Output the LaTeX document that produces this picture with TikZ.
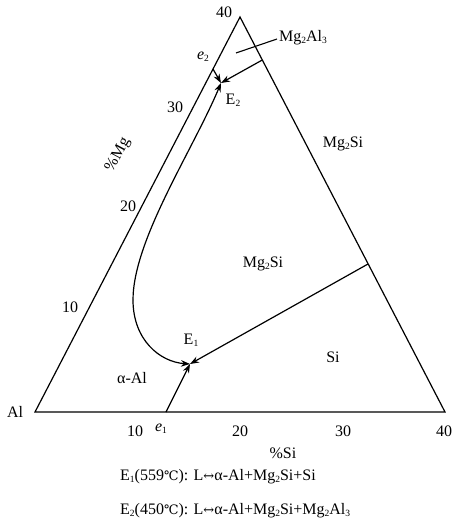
\documentclass[tikz,border=0pt]{standalone}
\usepackage{fontspec}
\setmainfont{Liberation Serif}
\newfontfamily\symfont{DejaVu Serif}
\usetikzlibrary{arrows.meta}
\newcommand\lsb[1]{\raisebox{-0.12em}{\fontsize{9.5}{10}\selectfont #1}}
\newcommand\degc{{\symfont\fontsize{13}{14}\selectfont ℃}}
\newcommand\lrarr{{\symfont\fontsize{13}{14}\selectfont ↔}}
\begin{document}
\begin{tikzpicture}[x=1pt,y=-1pt,
  lbl/.style={inner sep=0pt,font=\fontsize{16}{18}\selectfont},
  edge/.style={line width=1.2pt},
  flow/.style={line width=1.2pt,-{Stealth[length=9pt,width=6.5pt]}}]
\useasboundingbox (0,0) rectangle (455,518);
% vertices
\coordinate (A) at (35,412);
\coordinate (T) at (240,17);
\coordinate (B) at (445,412);
% invariant points
\coordinate (e1) at (166,412);
\coordinate (e2) at (213,69);
\coordinate (E1) at (190,364);
\coordinate (E2) at (221,83);
\coordinate (m2) at (262.3,60);
\coordinate (sR) at (368,264);
\coordinate (L1) at (236,53);
\coordinate (L2) at (277,39);
\coordinate (S) at (133,300);
% triangle
\draw[edge,line join=miter] (A) -- (T) -- (B) -- cycle;
% lines
\draw[flow] (e2) -- (E2);
\draw[flow] (m2) -- (E2);
\draw[line width=1.1pt] (L1) -- (L2);
\draw[flow] (S) .. controls (133,240) and (193,150) .. (E2);
\draw[flow] (S) .. controls (133,340) and (160,362) .. (E1);
\draw[flow] (e1) -- (E1);
\draw[flow] (sR) -- (E1);
% labels
\node[lbl] (t40) at (224,12) {40};
\node[lbl] (le2) at (203,57) {\textit{e}\lsb{2}};
\node[lbl] (lE2) at (233,100) {E\lsb{2}};
\node[lbl,anchor=west] (lMgAl) at (279,38) {Mg\lsb{2}Al\lsb{3}};
\node[lbl] (l30) at (175,107) {30};
\node[lbl,rotate=62] (lMg) at (118,155) {\%\kern1ptMg};
\node[lbl] (l20) at (128,206) {20};
\node[lbl] (lMgSi1) at (343,144) {Mg\lsb{2}Si};
\node[lbl] (lMgSi2) at (263,264) {Mg\lsb{2}Si};
\node[lbl] (l10) at (70,307) {10};
\node[lbl] (lE1) at (191,340) {E\lsb{1}};
\node[lbl] (lal) at (132,378) {α-Al};
\node[lbl] (lSi) at (333,357) {Si};
\node[lbl] (lAl) at (15,412) {Al};
\node[lbl] (b10) at (135,431) {10};
\node[lbl] (le1) at (161,429) {\textit{e}\lsb{1}};
\node[lbl] (b20) at (240,431) {20};
\node[lbl] (b30) at (343,431) {30};
\node[lbl] (b40) at (444,431) {40};
\node[lbl] (lpSi) at (283,453) {\%Si};
\node[lbl,anchor=west] (r1) at (120,477) {E\lsb{1}(559\degc): L\lrarr α-Al+Mg\lsb{2}Si+Si};
\node[lbl,anchor=west] (r2) at (120,511) {E\lsb{2}(450\degc): L\lrarr α-Al+Mg\lsb{2}Si+Mg\lsb{2}Al\lsb{3}};
\end{tikzpicture}
\end{document}
